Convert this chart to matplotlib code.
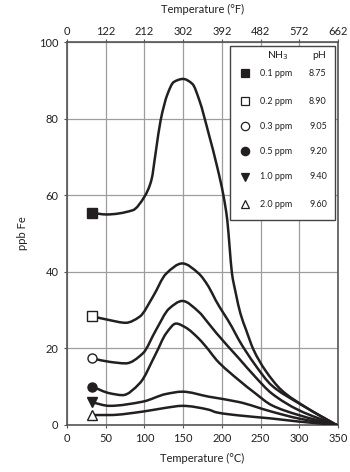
import numpy as np
import matplotlib
matplotlib.use("Agg")
import matplotlib.pyplot as plt
from matplotlib.patches import Rectangle, PathPatch
from matplotlib.path import Path

plt.rcParams['font.family'] = ['Lato', 'DejaVu Sans']

# temperature (deg C) / ppb Fe
x_01 = [33, 51, 85, 100, 109, 115, 121, 130, 138, 150, 162, 171, 183, 194, 202, 207,
        210, 213, 218, 224, 231, 241, 256, 277, 307, 348]
y_01 = [55.4, 55.0, 56.1, 59.6, 63.9, 71.7, 79.6, 86.5, 89.6, 90.4, 89.1, 84.8, 76.1,
        67.4, 60.0, 53.5, 46.5, 39.7, 34.4, 29.1, 25.0, 19.6, 14.3, 9.1, 4.8, 0.0]

x_02 = [33, 55, 76, 94, 111, 128, 149, 170, 183, 192, 213, 222, 243, 264, 299, 348]
y_02 = [28.4, 27.4, 26.7, 28.3, 33.5, 39.5, 42.2, 39.6, 36.1, 32.6, 25.6, 22.2, 15.7,
        10.4, 5.7, 0.0]

x_03 = [33, 55, 76, 98, 115, 132, 149, 170, 183, 193, 222, 243, 264, 299, 348]
y_03 = [17.4, 16.5, 16.1, 18.7, 24.8, 30.4, 32.4, 29.6, 26.5, 24.0, 17.4, 12.6, 8.3,
        3.9, 0.0]

x_05 = [33, 55, 72, 94, 115, 128, 141, 153, 170, 183, 193, 222, 243, 264, 299, 348]
y_05 = [10.0, 8.3, 7.8, 10.9, 18.7, 23.9, 26.5, 25.5, 22.6, 19.6, 17.0, 11.7, 8.3, 5.2,
        2.6, 0.0]

x_10 = [33, 55, 98, 128, 149, 183, 222, 264, 299, 348]
y_10 = [5.9, 5.0, 6.1, 8.1, 8.7, 7.4, 6.0, 3.5, 1.7, 0.0]

x_20 = [33, 55, 98, 128, 149, 183, 193, 222, 264, 299, 348]
y_20 = [2.6, 2.6, 3.5, 4.5, 5.0, 4.0, 3.3, 2.5, 1.7, 0.9, 0.0]

nh3 = ['0.1 ppm', '0.2 ppm', '0.3 ppm', '0.5 ppm', '1.0 ppm', '2.0 ppm']
ph = ['8.75', '8.90', '9.05', '9.20', '9.40', '9.60']
markers = ['s', 's', 'o', 'o', 'v', '^']
filled = [True, False, False, True, True, False]
msizes = [7.5, 7.5, 6.5, 6.5, 7, 7]

c_ticks = [0, 50, 100, 150, 200, 250, 300, 350]
f_labels = ['0', '122', '212', '302', '392', '482', '572', '662']

series = [(x_01, y_01), (x_02, y_02), (x_03, y_03), (x_05, y_05), (x_10, y_10), (x_20, y_20)]


def smooth_path(xs, ys):
    # cubic bezier path through the read points (monotone hermite tangents)
    x = np.asarray(xs, float)
    y = np.asarray(ys, float)
    h = np.diff(x)
    d = np.diff(y) / h
    m = np.zeros_like(y)
    m[0], m[-1] = d[0], d[-1]
    for i in range(1, len(x) - 1):
        if d[i - 1] * d[i] > 0:
            w1 = 2 * h[i] + h[i - 1]
            w2 = h[i] + 2 * h[i - 1]
            m[i] = (w1 + w2) / (w1 / d[i - 1] + w2 / d[i])
    verts = [(x[0], y[0])]
    codes = [Path.MOVETO]
    for i in range(len(x) - 1):
        verts += [(x[i] + h[i] / 3, y[i] + m[i] * h[i] / 3),
                  (x[i + 1] - h[i] / 3, y[i + 1] - m[i + 1] * h[i] / 3),
                  (x[i + 1], y[i + 1])]
        codes += [Path.CURVE4] * 3
    return Path(verts, codes)


fig = plt.figure(figsize=(3.5, 4.72), dpi=100)
ax = fig.add_axes([0.191, 0.0996, 0.775, 0.811])

ink = '#231f20'
for (xs, ys), m, f, ms in zip(series, markers, filled, msizes):
    ax.add_patch(PathPatch(smooth_path(xs, ys), fill=False, ec=ink, lw=1.8,
                           capstyle='round', zorder=3))
    ax.plot(xs[0], ys[0], marker=m, ms=ms, mfc=ink if f else 'white', mec=ink,
            mew=1.0, ls='none', zorder=4, clip_on=False)

ax.set_xlim(0, 350)
ax.set_ylim(0, 100)
ax.set_xticks(c_ticks)
ax.set_yticks([0, 20, 40, 60, 80, 100])
ax.grid(True, color='#9d9d9d', lw=0.9)
ax.set_axisbelow(True)
ax.tick_params(length=2, width=0.8, color='#555555', labelsize=8, labelcolor=ink, pad=4)
for s in ax.spines.values():
    s.set_color('#555555')
    s.set_linewidth(1.2)
ax.set_xlabel('Temperature (°C)', fontsize=8, color=ink, labelpad=6)
ax.set_ylabel('ppb Fe', fontsize=8, color=ink, labelpad=8)

ax2 = ax.twiny()
ax2.set_xlim(0, 350)
ax2.set_xticks(c_ticks)
ax2.set_xticklabels(f_labels)
ax2.tick_params(length=2, width=0.8, color='#555555', labelsize=8, labelcolor=ink, pad=2)
for s in ax2.spines.values():
    s.set_visible(False)
ax2.set_xlabel('Temperature (°F)', fontsize=8, color=ink, labelpad=9)

# legend box
tr = ax.transAxes
ax.add_patch(Rectangle((0.601, 0.535), 0.388, 0.455, transform=tr, fc='white',
                       ec='#444444', lw=1.0, zorder=5))
ax.text(0.779, 0.966, 'NH$_3$', transform=tr, ha='center', va='center', fontsize=7.5,
        color=ink, zorder=6)
ax.text(0.93, 0.966, 'pH', transform=tr, ha='center', va='center', fontsize=7.5,
        color=ink, zorder=6)
row_y = [0.919, 0.846, 0.781, 0.715, 0.648, 0.577]
for yy, lab, p, m, f in zip(row_y, nh3, ph, markers, filled):
    ax.plot(0.657, yy, marker=m, ms=6, mfc=ink if f else 'white', mec=ink, mew=0.9,
            transform=tr, zorder=6, clip_on=False)
    ax.text(0.712, yy, lab, transform=tr, ha='left', va='center', fontsize=6.5,
            color=ink, zorder=6)
    ax.text(0.893, yy, p, transform=tr, ha='left', va='center', fontsize=6.5,
            color=ink, zorder=6)

fig.savefig('out.png', dpi=100)
